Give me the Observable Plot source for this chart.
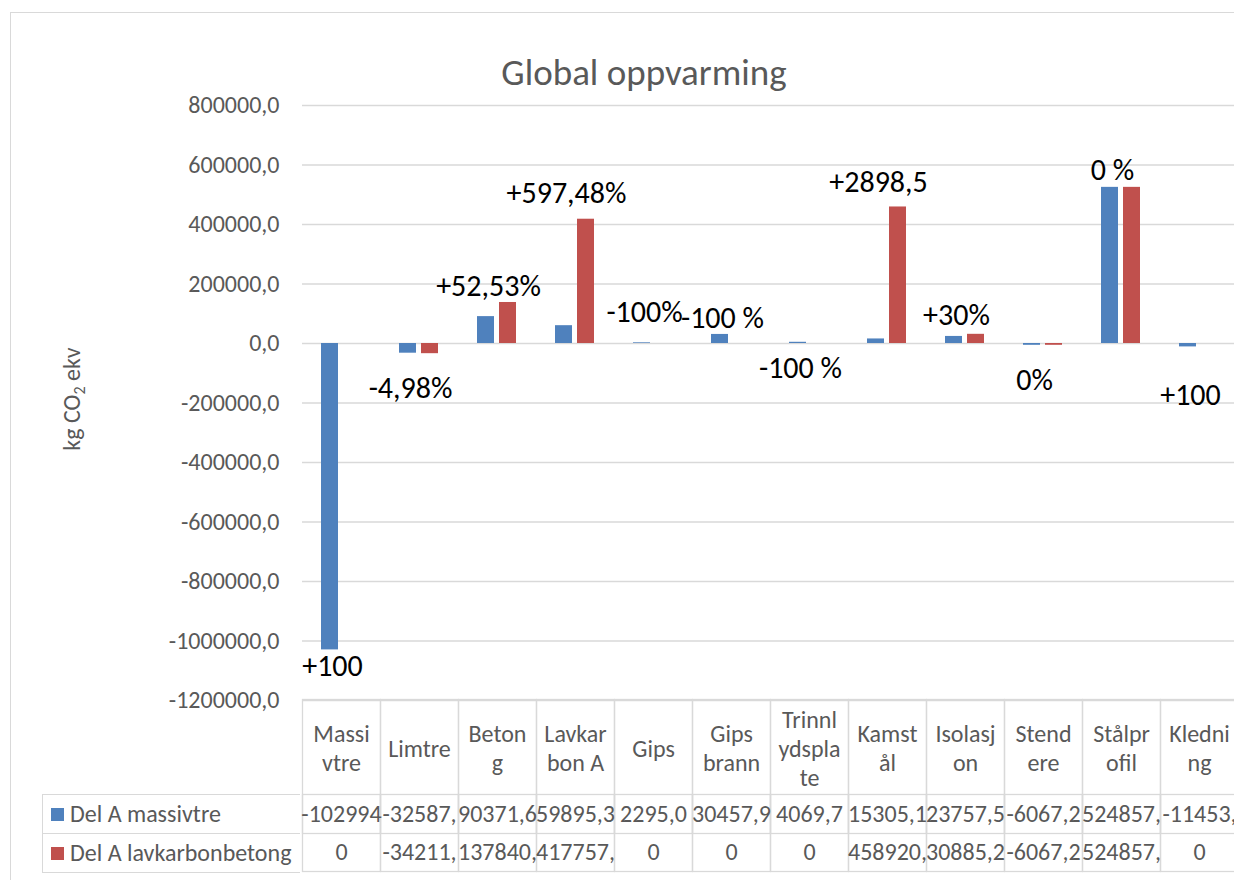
<!DOCTYPE html>
<html>
<head>
<meta charset="utf-8">
<script src="https://cdn.jsdelivr.net/npm/d3@7"></script>
<script src="https://cdn.jsdelivr.net/npm/@observablehq/plot@0.6"></script>
<style>
  html, body { margin: 0; padding: 0; background: #fff; overflow: hidden; width: 1234px; height: 880px; }
  body { position: relative; font-family: Carlito, "Open Sans", sans-serif; color: #595959; }
  #frame { position: absolute; left: 10px; top: 12px; width: 1300px; height: 900px; border: 1px solid #d9d9d9; box-sizing: border-box; }
  #title { position: absolute; left: 0; width: 1288px; top: 53px; text-align: center; font-size: 37px; line-height: 40px; color: #595959; }
  #ylabel { position: absolute; left: 71px; top: 399px; transform: translate(-50%, -50%) rotate(-90deg); white-space: nowrap; font-size: 24px; color: #595959; }
  #ylabel sub { font-size: 16px; vertical-align: -5px; line-height: 0; }
  #chart { position: absolute; left: 0; top: 0; width: 1250px; }
  #chart svg { max-width: none !important; width: 1250px !important; height: 880px !important; }
  #legend { position: absolute; left: 42px; top: 794px; width: 257px; border-left: 1px solid #d9d9d9; }
  .lrow { position: relative; height: 38px; border-top: 1px solid #d9d9d9; font-size: 24px; line-height: 38px; color: #595959; white-space: nowrap; }
  .lrow:last-child { border-bottom: 1px solid #d9d9d9; }
  .sw { position: absolute; left: 8px; top: 13px; width: 13px; height: 13px; }
  .lt { position: absolute; left: 27px; top: 0; }
</style>
</head>
<body>
<div id="frame"></div>
<div id="title">Global oppvarming</div>
<div id="ylabel">kg CO<sub>2</sub> ekv</div>
<div id="chart"></div>
<div id="legend"></div>
<script>
// ---- data ----
const categories = ["Massivtre", "Limtre", "Betong", "Lavkarbon A", "Gips", "Gips brann", "Trinnlydsplate", "Kamstål", "Isolasjon", "Stendere", "Stålprofil", "Kledning"];
const categoryLabels = ["Massi\nvtre", "Limtre", "Beton\ng", "Lavkar\nbon A", "Gips", "Gips\nbrann", "Trinnl\nydspla\nte", "Kamst\nål", "Isolasj\non", "Stend\nere", "Stålpr\nofil", "Kledni\nng"];
const seriesNames = ["Del A massivtre", "Del A lavkarbonbetong"];
const massivtre = [-1029940.0, -32587.0, 90371.6, 59895.3, 2295.0, 30457.9, 4069.7, 15305.1, 23757.5, -6067.2, 524857.0, -11453.0];
const lavkarbonbetong = [0, -34211.0, 137840.0, 417757.0, 0, 0, 0, 458920.0, 30885.2, -6067.2, 524857.0, 0];
const changeLabels = ["+100", "-4,98%", "+52,53%", "+597,48%", "-100%", "-100 %", "-100 %", "+2898,5", "+30%", "0%", "0 %", "+100"];
// where each change label sits on the value axis (kg CO2 ekv)
const changeLabelAt = [-1085000, -151000, 191000, 504000, 104000, 84000, -84000, 541000, 94000, -124000, 582000, -175000];
const yTicks = [800000, 600000, 400000, 200000, 0, -200000, -400000, -600000, -800000, -1000000, -1200000];
const seriesColors = ["#4f81bd", "#c0504d"];

// ---- derived tables ----
const bars = [];
categories.forEach((c, i) => {
  bars.push({cat: c, series: seriesNames[0], value: massivtre[i]});
  bars.push({cat: c, series: seriesNames[1], value: lavkarbonbetong[i]});
});
const fmtCell = v => v === 0 ? "0" : v.toFixed(1).replace(".", ",").slice(0, 7);
const catRows = categories.map((c, i) => ({
  cat: c,
  label: categoryLabels[i],
  v1: fmtCell(massivtre[i]),
  v2: fmtCell(lavkarbonbetong[i]),
  change: changeLabels[i],
  at: changeLabelAt[i]
}));

const fmtTick = d => d.toFixed(1).replace(".", ",");

const chart = Plot.plot({
  width: 1250,
  height: 880,
  marginLeft: 299,
  marginRight: 10,
  marginTop: 105,
  marginBottom: 180,
  style: {fontFamily: "Carlito, 'Open Sans', sans-serif", fontSize: "24px", color: "#595959", background: "transparent", overflow: "visible"},
  fx: {domain: categories, padding: 0, axis: null},
  x: {domain: seriesNames, paddingInner: 0.222, paddingOuter: 0.857, axis: null},
  y: {domain: [-1200000, 800000], ticks: yTicks, tickFormat: fmtTick, tickSize: 0, tickPadding: 23, label: null, grid: false},
  color: {domain: seriesNames, range: seriesColors},
  marks: [
    Plot.ruleY(yTicks, {stroke: "#d9d9d9", strokeWidth: 1.3}),
    // data table grid
    Plot.frame({stroke: "#d9d9d9", strokeWidth: 1.3, insetTop: 594, insetBottom: -171}),
    Plot.frame({stroke: "#d9d9d9", strokeWidth: 1.3, insetTop: 689, insetBottom: -133}),
    Plot.barY(bars, {fx: "cat", x: "series", y: "value", fill: "series"}),
    // change labels
    Plot.text(catRows, {fx: "cat", y: "at", text: "change", dx: -9, fill: "#000", fontSize: 30, lineAnchor: "middle"}),
    // category header row
    Plot.text(catRows, {fx: "cat", frameAnchor: "bottom", dy: 47, text: "label", fill: "#595959", lineAnchor: "middle", lineHeight: 1.2}),
    // value rows
    Plot.text(catRows, {fx: "cat", frameAnchor: "bottom", dy: 113.5, text: "v1", fill: "#595959", lineAnchor: "middle"}),
    Plot.text(catRows, {fx: "cat", frameAnchor: "bottom", dy: 152, text: "v2", fill: "#595959", lineAnchor: "middle"})
  ]
});
document.getElementById("chart").appendChild(chart);

// legend column of the data table
const legend = document.getElementById("legend");
seriesNames.forEach((s, i) => {
  const row = document.createElement("div");
  row.className = "lrow";
  row.innerHTML = `<span class="sw" style="background:${seriesColors[i]}"></span><span class="lt">${s}</span>`;
  legend.appendChild(row);
});
</script>
</body>
</html>
